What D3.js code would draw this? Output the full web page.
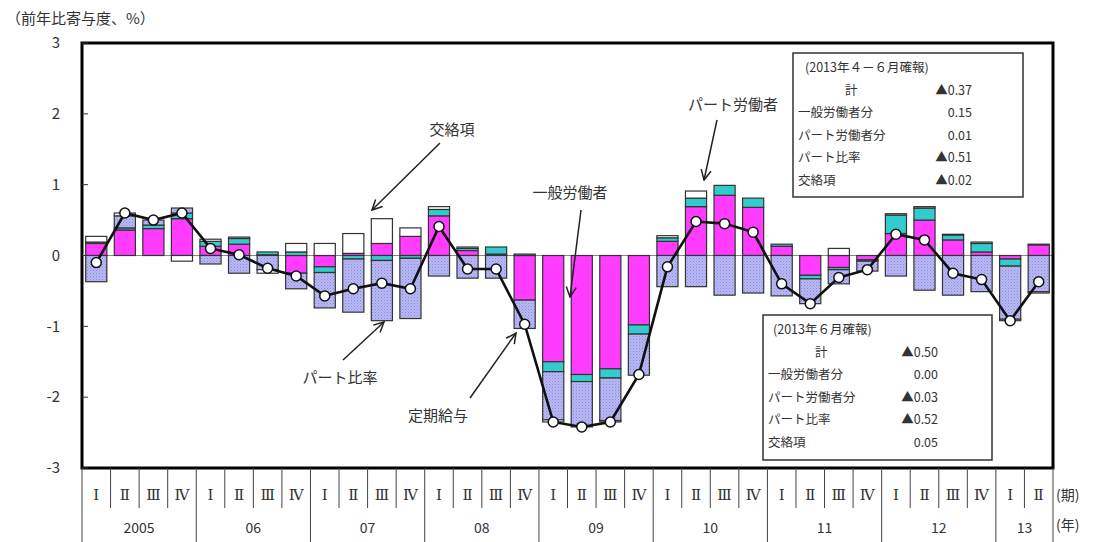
<!DOCTYPE html>
<html>
<head>
<meta charset="utf-8">
<script src="https://cdn.jsdelivr.net/npm/d3@7"></script>
<style>
  body { margin: 0; background: #fff; }
  svg text { font-family: "Noto Sans CJK JP", "Noto Sans", sans-serif; fill: #333; }
  .roman { font-family: "DejaVu Serif", "Liberation Serif", serif; }
</style>
</head>
<body>
<svg id="chart" width="1106" height="542"></svg>
<script>
// data (contribution to y/y change, %)
const quarterLabels = ["Ⅰ","Ⅱ","Ⅲ","Ⅳ","Ⅰ","Ⅱ","Ⅲ","Ⅳ","Ⅰ","Ⅱ","Ⅲ","Ⅳ","Ⅰ","Ⅱ","Ⅲ","Ⅳ",
  "Ⅰ","Ⅱ","Ⅲ","Ⅳ","Ⅰ","Ⅱ","Ⅲ","Ⅳ","Ⅰ","Ⅱ","Ⅲ","Ⅳ","Ⅰ","Ⅱ","Ⅲ","Ⅳ","Ⅰ","Ⅱ"];
const yearLabels = ["2005","06","07","08","09","10","11","12","13"];
const yTicks = [3, 2, 1, 0, -1, -2, -3];

const general = [0.17,0.36,0.38,0.52, 0.13,0.16,0.01,-0.25, -0.16,0.03,0.17,0.27, 0.56,0.07,0.02,-0.63,
  -1.50,-1.68,-1.60,-0.98, 0.20,0.69,0.85,0.68, 0.13,-0.28,-0.17,-0.06, 0.31,0.50,0.22,0.05, -0.05,0.15];
const partWorker = [0.02,0.03,0.05,0.08, 0.07,0.08,0.04,0.05, -0.08,-0.05,-0.07,-0.04, 0.09,0.03,0.10,0.02,
  -0.14,-0.10,-0.13,-0.13, 0.05,0.12,0.14,0.13, 0.03,-0.05,-0.03,-0.02, 0.26,0.17,0.07,0.12, -0.10,0.01];
const partRatio = [-0.37,0.17,0.07,0.07, -0.12,-0.25,-0.20,-0.22, -0.50,-0.75,-0.85,-0.85, -0.29,-0.32,-0.32,-0.40,
  -0.68,-0.64,-0.60,-0.58, -0.44,-0.44,-0.56,-0.53, -0.57,-0.35,-0.20,-0.14, -0.29,-0.49,-0.56,-0.51, -0.75,-0.51];
const cross = [0.08,0.04,0.00,-0.08, 0.03,0.02,-0.05,0.12, 0.17,0.28,0.35,0.12, 0.04,0.02,0.00,0.00,
  -0.03,0.00,-0.02,0.00, 0.03,0.10,0.00,0.00, 0.00,0.00,0.10,0.00, 0.02,0.02,0.01,0.02, -0.02,-0.02];
const total = [-0.10,0.60,0.50,0.60, 0.10,0.01,-0.18,-0.29, -0.57,-0.47,-0.39,-0.47, 0.41,-0.19,-0.19,-0.97,
  -2.35,-2.42,-2.35,-1.68, -0.16,0.48,0.45,0.33, -0.40,-0.68,-0.31,-0.20, 0.30,0.22,-0.25,-0.34, -0.92,-0.37];

const legendJun = ["(2013年４－６月確報)", "計", "一般労働者分", "パート労働者分", "パート比率", "交絡項"];
const legendJunVals = ["", "▲0.37", "0.15", "0.01", "▲0.51", "▲0.02"];
const legendMonth = ["(2013年６月確報)", "計", "一般労働者分", "パート労働者分", "パート比率", "交絡項"];
const legendMonthVals = ["", "▲0.50", "0.00", "▲0.03", "▲0.52", "0.05"];

// layout
const margin = {left: 82, right: 1053, top: 43, bottom: 468};
const svg = d3.select('#chart');

const keys = ["general", "partWorker", "partRatio", "cross"];
const colors = {general: "#ff3cff", partWorker: "#33cccc", partRatio: "url(#dots)", cross: "#ffffff"};

const rows = total.map((t, i) => ({
  i: i, general: general[i], partWorker: partWorker[i], partRatio: partRatio[i], cross: cross[i], total: t
}));

const x = d3.scaleBand().domain(d3.range(total.length)).range([margin.left, margin.right])
    .paddingInner(0.26).paddingOuter(0.13);
const xq = d3.scaleBand().domain(d3.range(total.length)).range([margin.left, margin.right]);
const y = d3.scaleLinear().domain([-3, 3]).range([margin.bottom, margin.top]);

// hatch pattern for パート比率
const defs = svg.append('defs');
const pat = defs.append('pattern').attr('id', 'dots').attr('width', 3).attr('height', 3)
    .attr('patternUnits', 'userSpaceOnUse');
pat.append('rect').attr('width', 3).attr('height', 3).attr('fill', '#b8b8f6');
pat.append('rect').attr('width', 1).attr('height', 1).attr('fill', '#8a8ad8');
pat.append('rect').attr('x', 1.5).attr('y', 1.5).attr('width', 1).attr('height', 1).attr('fill', '#9c9ce4');

defs.append('marker').attr('id', 'arrow').attr('viewBox', '0 0 12 12')
    .attr('refX', 11).attr('refY', 6).attr('markerWidth', 12).attr('markerHeight', 12)
    .attr('markerUnits', 'userSpaceOnUse').attr('orient', 'auto')
    .append('path').attr('d', 'M1,1 L11,6 L1,11').attr('fill', 'none')
    .attr('stroke', '#222').attr('stroke-width', 1.5);

// zero line
svg.append('line').attr('x1', margin.left).attr('x2', margin.right).attr('y1', y(0)).attr('y2', y(0))
    .attr('stroke', '#888').attr('stroke-width', 1);

// stacked bars
const series = d3.stack().keys(keys).offset(d3.stackOffsetDiverging)(rows);
svg.append('g').selectAll('g')
    .data(series)
    .enter().append('g')
    .attr('fill', d => colors[d.key])
    .selectAll('rect')
    .data(d => d)
    .enter().append('rect')
    .attr('x', d => x(d.data.i))
    .attr('y', d => y(Math.max(d[0], d[1])))
    .attr('width', x.bandwidth())
    .attr('height', d => Math.abs(y(d[0]) - y(d[1])))
    .attr('stroke', '#333')
    .attr('stroke-width', 1.2);

// total line
const line = d3.line().x(d => xq(d.i) + xq.bandwidth() / 2).y(d => y(d.total));
svg.append('path').datum(rows).attr('d', line)
    .attr('fill', 'none').attr('stroke', '#111').attr('stroke-width', 2.6);
svg.append('g').selectAll('circle').data(rows).enter().append('circle')
    .attr('cx', d => xq(d.i) + xq.bandwidth() / 2)
    .attr('cy', d => y(d.total))
    .attr('r', 5)
    .attr('fill', '#fff').attr('stroke', '#111').attr('stroke-width', 1.5);

// frame
svg.append('rect').attr('x', margin.left).attr('y', margin.top)
    .attr('width', margin.right - margin.left).attr('height', margin.bottom - margin.top)
    .attr('fill', 'none').attr('stroke', '#000').attr('stroke-width', 3);

// y axis labels and inner ticks
yTicks.forEach(function(t) {
  svg.append('text').attr('x', 60).attr('y', y(t)).attr('dy', '0.35em')
      .attr('text-anchor', 'end').style('font-size', '15px').text(t);
  svg.append('line').attr('x1', margin.left).attr('x2', margin.left + 6).attr('y1', y(t)).attr('y2', y(t))
      .attr('stroke', '#333').attr('stroke-width', 1);
});
svg.append('text').attr('x', 6).attr('y', 24).style('font-size', '15px').text('（前年比寄与度、%）');

// x axis: quarter and year separators
d3.range(total.length + 1).forEach(function(i) {
  const xx = i < total.length ? xq(i) : margin.right;
  const isYear = (i % 4 === 0) || i === total.length;
  svg.append('line').attr('x1', xx).attr('x2', xx).attr('y1', margin.bottom).attr('y2', isYear ? 542 : 508)
      .attr('stroke', '#444').attr('stroke-width', 1);
});
svg.append('g').selectAll('text').data(quarterLabels).enter().append('text')
    .attr('class', 'roman')
    .attr('x', (d, i) => xq(i) + xq.bandwidth() / 2)
    .attr('y', 495).attr('dy', '0.35em').attr('text-anchor', 'middle')
    .style('font-size', '15px').text(d => d);
svg.append('g').selectAll('text').data(yearLabels).enter().append('text')
    .attr('x', (d, i) => {
      const a = xq(i * 4), b = Math.min(i * 4 + 4, total.length);
      const e = b < total.length ? xq(b) : margin.right;
      return (a + e) / 2;
    })
    .attr('y', 528).attr('dy', '0.35em').attr('text-anchor', 'middle')
    .style('font-size', '14px').text(d => d);
svg.append('text').attr('x', 1056).attr('y', 495).attr('dy', '0.35em').style('font-size', '14px').text('(期)');
svg.append('text').attr('x', 1056).attr('y', 525).attr('dy', '0.35em').style('font-size', '14px').text('(年)');

// legend boxes
function drawBox(x0, y0, w, h, labels, vals, titleX, sumX, valX) {
  const g = svg.append('g');
  g.append('rect').attr('x', x0).attr('y', y0).attr('width', w).attr('height', h)
      .attr('fill', '#fff').attr('stroke', '#333').attr('stroke-width', 1.5);
  labels.forEach(function(t, k) {
    const yy = y0 + 15 + k * 22.5;
    g.append('text').attr('x', k === 0 ? titleX : (k === 1 ? sumX : x0 + 5)).attr('y', yy).attr('dy', '0.35em')
        .style('font-size', '12.5px').text(t);
    g.append('text').attr('x', valX).attr('y', yy).attr('dy', '0.35em').attr('text-anchor', 'end')
        .style('font-size', '12.5px').text(vals[k]);
  });
}
drawBox(793, 53, 230, 144, legendJun, legendJunVals, 805, 845, 972);
drawBox(763, 315, 229, 145, legendMonth, legendMonthVals, 773, 815, 938);

// annotations
function annotate(label, tx, ty, x1, y1, x2, y2) {
  svg.append('text').attr('x', tx).attr('y', ty).attr('dy', '0.35em').attr('text-anchor', 'middle')
      .style('font-size', '15px').text(label);
  svg.append('line').attr('x1', x1).attr('y1', y1).attr('x2', x2).attr('y2', y2)
      .attr('stroke', '#222').attr('stroke-width', 1.5).attr('marker-end', 'url(#arrow)');
}
annotate('交絡項', 452, 130, 440, 143, 372, 210);
annotate('パート労働者', 733, 105, 717, 120, 704, 180);
annotate('一般労働者', 570, 193, 581, 210, 570, 297);
annotate('パート比率', 340, 378, 343, 360, 384, 322);
annotate('定期給与', 438, 416, 470, 398, 516, 333);
</script>
</body>
</html>
